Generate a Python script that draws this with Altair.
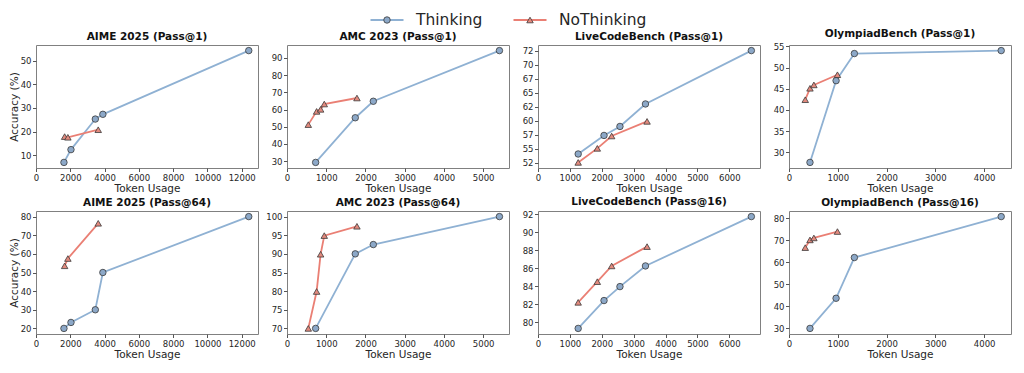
import altair as alt
import pandas as pd

series_names = ["Thinking", "NoThinking"]
line_colors = ["#8fb1d3", "#ea7f74"]
fill_colors = ["#8ca8c8", "#e38a7e"]
marker_shapes = ["circle", "triangle-up"]

# ---- token usage (x) ----
aime_think_tokens = [1630, 2040, 3460, 3900, 12410]
aime_nothink_tokens = [1670, 1860, 3630]
amc_think_tokens = [730, 1740, 2200, 5415]
amc_nothink_tokens = [543, 755, 857, 950, 1783]
lcb_think_tokens = [1260, 2070, 2570, 3370, 6690]
lcb_nothink_tokens = [1260, 1860, 2310, 3420]
oly_think_tokens = [430, 965, 1340, 4350]
oly_nothink_tokens = [333, 430, 510, 993]

# ---- accuracy (y) ----
aime_p1_think = [7.0, 12.4, 25.3, 27.3, 54.2]
aime_p1_nothink = [17.9, 17.6, 20.8]
amc_p1_think = [29.2, 55.2, 64.8, 94.3]
amc_p1_nothink = [51.2, 58.9, 60.1, 63.2, 66.7]
lcb_p1_think = [54.1, 57.4, 59.0, 63.0, 72.5]
lcb_p1_nothink = [52.6, 55.1, 57.3, 59.9]
oly_p1_think = [27.6, 46.9, 53.3, 54.0]
oly_p1_nothink = [42.4, 45.1, 45.9, 48.3]

aime_p64_think = [20.0, 23.2, 30.0, 50.0, 80.0]
aime_p64_nothink = [53.6, 57.5, 76.4]
amc_p64_think = [70.0, 90.0, 92.5, 100.0]
amc_p64_nothink = [70.0, 79.9, 89.9, 94.9, 97.4]
lcb_p16_think = [79.3, 82.4, 83.95, 86.25, 91.74]
lcb_p16_nothink = [82.2, 84.5, 86.25, 88.4]
oly_p16_think = [30.0, 43.7, 62.2, 80.8]
oly_p16_nothink = [66.7, 70.2, 71.1, 74.0]

# ---- tick values ----
aime_xticks = [0, 2000, 4000, 6000, 8000, 10000, 12000]
amc_xticks = [0, 1000, 2000, 3000, 4000, 5000]
lcb_xticks = [0, 1000, 2000, 3000, 4000, 5000, 6000]
oly_xticks = [0, 1000, 2000, 3000, 4000]

aime_p1_yticks = [10, 20, 30, 40, 50]
amc_p1_yticks = [30, 40, 50, 60, 70, 80, 90]
lcb_p1_yticks = [52.5, 55, 57.5, 60, 62.5, 65, 67.5, 70, 72.5]
oly_p1_yticks = [30, 35, 40, 45, 50, 55]
aime_p64_yticks = [20, 30, 40, 50, 60, 70, 80]
amc_p64_yticks = [70, 75, 80, 85, 90, 95, 100]
lcb_p16_yticks = [80, 82, 84, 86, 88, 90, 92]
oly_p16_yticks = [30, 40, 50, 60, 70, 80]

panels_all = [
    ("AIME 2025 (Pass@1)", aime_think_tokens, aime_p1_think, aime_nothink_tokens, aime_p1_nothink, aime_xticks, aime_p1_yticks),
    ("AMC 2023 (Pass@1)", amc_think_tokens, amc_p1_think, amc_nothink_tokens, amc_p1_nothink, amc_xticks, amc_p1_yticks),
    ("LiveCodeBench (Pass@1)", lcb_think_tokens, lcb_p1_think, lcb_nothink_tokens, lcb_p1_nothink, lcb_xticks, lcb_p1_yticks),
    ("OlympiadBench (Pass@1)", oly_think_tokens, oly_p1_think, oly_nothink_tokens, oly_p1_nothink, oly_xticks, oly_p1_yticks),
    ("AIME 2025 (Pass@64)", aime_think_tokens, aime_p64_think, aime_nothink_tokens, aime_p64_nothink, aime_xticks, aime_p64_yticks),
    ("AMC 2023 (Pass@64)", amc_think_tokens, amc_p64_think, amc_nothink_tokens, amc_p64_nothink, amc_xticks, amc_p64_yticks),
    ("LiveCodeBench (Pass@16)", lcb_think_tokens, lcb_p16_think, lcb_nothink_tokens, lcb_p16_nothink, lcb_xticks, lcb_p16_yticks),
    ("OlympiadBench (Pass@16)", oly_think_tokens, oly_p16_think, oly_nothink_tokens, oly_p16_nothink, oly_xticks, oly_p16_yticks),
]

FONT = "DejaVu Sans"
PW, PH = 222, 123
COLSP, ROWSP = 29, 43
TEXT = "#262626"


def panel(spec, first_col):
    title, tx, ty, nx, ny, xticks, yticks = spec
    df = pd.DataFrame({
        "method": [series_names[0]] * len(tx) + [series_names[1]] * len(nx),
        "tokens": tx + nx,
        "acc": ty + ny,
    })
    xs = df["tokens"]
    ys = df["acc"]
    xmax = xs.max() + 0.05 * (xs.max() - xs.min())
    ypad = 0.05 * (ys.max() - ys.min())
    ydom = [ys.min() - ypad, ys.max() + ypad]
    yaxis_kwargs = dict(
        values=yticks, grid=False, domain=False, tickSize=3.5, tickColor="#555",
        labelFontSize=8.5, titleFontSize=10.5, labelPadding=1.5, titlePadding=1,
        labelColor=TEXT, titleColor=TEXT, titleFontWeight="normal",
        labelFont=FONT, titleFont=FONT,
        title="Accuracy (%)" if first_col else "",
    )
    if any(v != int(v) for v in yticks):
        yaxis_kwargs["labelExpr"] = "floor(datum.value)"
    else:
        yaxis_kwargs["format"] = "d"
    x = alt.X("tokens:Q", scale=alt.Scale(domain=[0, float(xmax)], nice=False, zero=False),
              axis=alt.Axis(values=xticks, format="d", title="Token Usage", grid=False, domain=False,
                            tickSize=3.5, tickColor="#555", labelFontSize=8.5, titleFontSize=10.5,
                            labelPadding=1.5, titlePadding=2, labelFlush=False, labelOverlap=False,
                            labelColor=TEXT, titleColor=TEXT, titleFontWeight="normal",
                            labelFont=FONT, titleFont=FONT))
    y = alt.Y("acc:Q", scale=alt.Scale(domain=[float(ydom[0]), float(ydom[1])], nice=False, zero=False),
              axis=alt.Axis(**yaxis_kwargs))
    base = alt.Chart(df).encode(x=x, y=y)
    lines = base.mark_line(strokeWidth=1.8).encode(
        stroke=alt.Stroke("method:N", scale=alt.Scale(domain=series_names, range=line_colors), legend=None)
    )
    pts = base.mark_point(filled=True, size=42, strokeWidth=0.8, opacity=1).encode(
        fill=alt.Fill("method:N", scale=alt.Scale(domain=series_names, range=fill_colors), legend=None),
        shape=alt.Shape("method:N", scale=alt.Scale(domain=series_names, range=marker_shapes), legend=None),
        stroke=alt.value("#3a3a3a"),
    )
    return alt.layer(lines, pts).properties(
        width=PW, height=PH,
        title=alt.TitleParams(title, fontSize=10.5, fontWeight="bold", font=FONT, offset=3, color="#111"),
        view=alt.ViewBackground(stroke="#808080", strokeWidth=1),
    )


grid = alt.concat(
    *[panel(p, i % 4 == 0) for i, p in enumerate(panels_all)],
    columns=4,
    spacing=alt.RowColnumber(row=ROWSP, column=COLSP),
    bounds="flush",
)

# legend strip
legend_df = pd.DataFrame({"method": series_names})
lx = alt.X("method:N", scale=alt.Scale(type="point", domain=series_names, range=[351, 494], padding=0), axis=None)
lbase = alt.Chart(legend_df).encode(x=lx)
leg_line = lbase.mark_point(shape="M-1,0L1,0", size=1089, filled=False, strokeWidth=1.8, opacity=1).encode(
    stroke=alt.Stroke("method:N", scale=alt.Scale(domain=series_names, range=line_colors), legend=None)
)
leg_pt = lbase.mark_point(filled=True, size=42, strokeWidth=0.8, opacity=1).encode(
    fill=alt.Fill("method:N", scale=alt.Scale(domain=series_names, range=fill_colors), legend=None),
    shape=alt.Shape("method:N", scale=alt.Scale(domain=series_names, range=marker_shapes), legend=None),
    stroke=alt.value("#3a3a3a"),
)
leg_text = lbase.mark_text(align="left", baseline="middle", dx=29, fontSize=15.5, font=FONT, color=TEXT).encode(
    text="method:N"
)
legend = alt.layer(leg_line, leg_pt, leg_text).properties(
    width=4 * PW + 3 * COLSP, height=22,
    view=alt.ViewBackground(stroke="transparent"),
)

chart = alt.vconcat(legend, grid, spacing=14, bounds="flush").properties(
    padding={"left": 0, "top": 0, "right": 0, "bottom": 0}
).configure(background="white")

chart.save("out.html", embed_options={"renderer": "svg", "actions": False})
